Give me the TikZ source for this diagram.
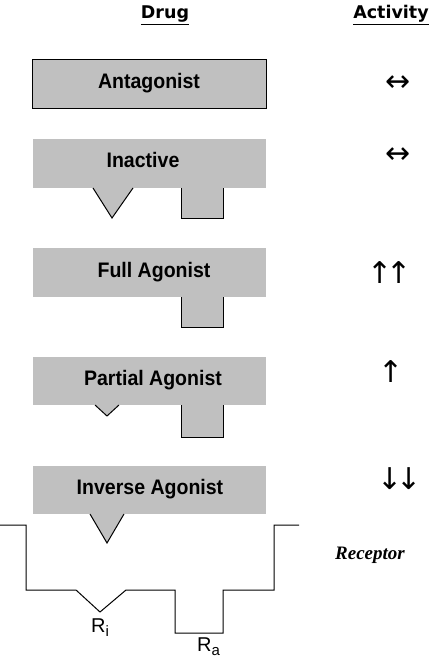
\documentclass[tikz,border=0pt]{standalone}
\usepackage{fontspec}
\setmainfont{Liberation Sans}
\newfontfamily\symfont{DejaVu Sans}
\newfontfamily\headfont{DejaVu Sans}
\newfontfamily\serfont{Liberation Serif}
\definecolor{druggray}{HTML}{C0C0C0}
\tikzset{
  drugbox/.style={fill=druggray, draw=none},
  druglabel/.style={anchor=base, inner sep=0pt, font=\bfseries\fontsize{21}{24}\selectfont},
  heading/.style={anchor=base, inner sep=0pt, font=\headfont\bfseries\fontsize{17.5}{20}\selectfont},
  actsym/.style={anchor=center, inner sep=0pt, font=\symfont\fontsize{30}{34}\selectfont},
  sublabel/.style={anchor=base west, inner sep=0pt, font=\fontsize{20}{24}\selectfont},
  outline/.style={line width=1pt, line join=miter}
}
\newcommand{\subtxt}[1]{\raisebox{-0.22em}{\fontsize{15}{15}\selectfont #1}}
\newcommand{\dlab}[1]{\scalebox{0.93}[1]{#1}}
\begin{document}
\begin{tikzpicture}[x=1pt,y=-1pt]
\useasboundingbox (0,0) rectangle (437,660);
% headings
\node[heading] (hdrug) at (165,19) {\underline{Drug}};
\node[heading] (hact) at (391,19) {\underline{Activity}};
% Antagonist
\draw[outline, fill=druggray] (32,60) rectangle (266,109);
\node[druglabel] (antag) at (149,89) {\dlab{Antagonist}};
% Inactive
\fill[druggray] (33,139) rectangle (266,188);
\filldraw[outline, fill=druggray] (93,188) -- (112,218) -- (133,188);
\filldraw[outline, fill=druggray] (181,188) -- (181,218) -- (223,218) -- (223,188);
\node[druglabel] (inact) at (143,168) {\dlab{Inactive}};
% Full Agonist
\fill[druggray] (33,248) rectangle (266,297);
\filldraw[outline, fill=druggray] (181,297) -- (181,327) -- (223,327) -- (223,297);
\node[druglabel] (full) at (154,277) {\dlab{Full Agonist}};
% Partial Agonist
\fill[druggray] (33,357) rectangle (266,405);
\filldraw[outline, fill=druggray] (95,405) -- (107,416) -- (119,405);
\filldraw[outline, fill=druggray] (181,405) -- (181,437) -- (223,437) -- (223,405);
\node[druglabel] (partial) at (153,385) {\dlab{Partial Agonist}};
% Inverse Agonist
\fill[druggray] (33,466) rectangle (266,514);
\filldraw[outline, fill=druggray] (90,514) -- (107,543) -- (124,514);
\node[druglabel] (inverse) at (150,494) {\dlab{Inverse Agonist}};
% Activity symbols
\node[actsym] (a1) at (398,84) {↔};
\node[actsym] (a2) at (398,156) {↔};
\node[actsym] (a3a) at (380,273) {↑};
\node[actsym] (a3b) at (399,273) {↑};
\node[actsym] (a4) at (391,372) {↑};
\node[actsym] (a5a) at (390,479) {↓};
\node[actsym] (a5b) at (409,479) {↓};
% Receptor
\draw[outline] (0,525) -- (26,525) -- (26,590) -- (76,590) -- (100,612) -- (126,590)
  -- (175,590) -- (175,633) -- (223,633) -- (223,590) -- (274,590) -- (274,525) -- (299,525);
\node[anchor=base, inner sep=0pt, font=\serfont\bfseries\itshape\fontsize{19}{22}\selectfont] (rec) at (370,559) {Receptor};
\node[sublabel] (ri) at (91,632) {R\subtxt{i}};
\node[sublabel] (ra) at (197,651) {R\subtxt{a}};
\end{tikzpicture}
\end{document}
